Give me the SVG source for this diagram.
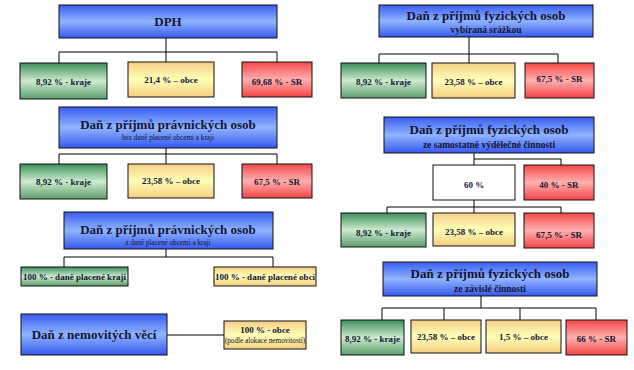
<svg xmlns="http://www.w3.org/2000/svg" width="634" height="370" viewBox="0 0 634 370">
<defs>
<linearGradient id="gBlue" x1="0" y1="0" x2="0" y2="1">
<stop offset="0" stop-color="#3a5cf0"/><stop offset="0.5" stop-color="#8fb4ff"/><stop offset="1" stop-color="#3658ee"/>
</linearGradient>
<linearGradient id="gGreen" x1="0" y1="0" x2="0" y2="1">
<stop offset="0" stop-color="#3f8f5a"/><stop offset="0.5" stop-color="#cdebcf"/><stop offset="1" stop-color="#5c9e6c"/>
</linearGradient>
<linearGradient id="gYellow" x1="0" y1="0" x2="0" y2="1">
<stop offset="0" stop-color="#f6cf85"/><stop offset="0.5" stop-color="#ffffb8"/><stop offset="1" stop-color="#f6cd80"/>
</linearGradient>
<linearGradient id="gRed" x1="0" y1="0" x2="0" y2="1">
<stop offset="0" stop-color="#f54848"/><stop offset="0.5" stop-color="#ffb0b0"/><stop offset="1" stop-color="#f44444"/>
</linearGradient>
</defs>
<style>
rect{stroke:#111;stroke-width:1}
.b{fill:url(#gBlue)}.g{fill:url(#gGreen)}.y{fill:url(#gYellow)}.r{fill:url(#gRed)}.w{fill:#fff}
text{font-family:"Liberation Serif","Times New Roman",serif;font-weight:bold;fill:#141432;text-anchor:middle}
.t{font-size:13px}.s{font-size:9.5px}.xs{font-size:7.2px;font-weight:normal}.l{font-size:9px}
.c path{fill:none;stroke:#000;stroke-width:1}
</style>
<g class="c" id="connectors">
<path d="M166 38V52M59 52H277M59 52V63M166 52V62M277 52V62"/>
<path d="M166 148V154M59 154H277M59 154V164M166 154V164M277 154V164"/>
<path d="M166 249V257M64 257H273M64 257V267M273 257V267"/>
<path d="M167 335H224"/>
<path d="M469 37V54M379 54H558M379 54V63M469 54V63M558 54V63"/>
<path d="M474 153V159H561V165M474 159V165"/>
<path d="M474 200V207M387 207H561M387 207V213M474 207V213M561 207V213"/>
<path d="M481 296V308M382 308H596M382 308V320M444 308V320M520 308V320M596 308V320"/>
</g>
<g id="dph"><rect class="b" x="59" y="5" width="218" height="33"/><text class="t" x="168" y="26">DPH</text></g>
<g id="dph-kraje"><rect class="g" x="20" y="63" width="87" height="36"/><text class="l" x="63.5" y="85">8,92 % - kraje</text></g>
<g id="dph-obce"><rect class="y" x="128" y="62" width="86" height="35"/><text class="l" x="171" y="83">21,4 % – obce</text></g>
<g id="dph-sr"><rect class="r" x="242" y="62" width="70" height="35"/><text class="l" x="277" y="85">69,68 % - SR</text></g>

<g id="dppo1"><rect class="b" x="59" y="107" width="218" height="41"/><text class="t" x="168" y="129">Daň z příjmů právnických osob</text><text class="xs" x="168" y="140">bez daně placené obcemi a kraji</text></g>
<g id="dppo1-kraje"><rect class="g" x="20" y="164" width="87" height="35"/><text class="l" x="63.5" y="185">8,92 % - kraje</text></g>
<g id="dppo1-obce"><rect class="y" x="128" y="164" width="86" height="34"/><text class="l" x="171" y="184">23,58 % – obce</text></g>
<g id="dppo1-sr"><rect class="r" x="242" y="164" width="70" height="34"/><text class="l" x="277" y="185">67,5 % - SR</text></g>

<g id="dppo2"><rect class="b" x="64" y="212" width="209" height="37"/><text class="t" x="168" y="234">Daň z příjmů právnických osob</text><text class="xs" x="168" y="245">z daně placené obcemi a kraji</text></g>
<g id="dppo2-kraj"><rect class="g" x="21" y="267" width="107" height="19"/><text class="l" x="74.5" y="280">100 % - daně placené kraji</text></g>
<g id="dppo2-obec"><rect class="y" x="214" y="267" width="102" height="19"/><text class="l" x="265" y="280">100 % - daně placené obcí</text></g>

<g id="dnv"><rect class="b" x="21" y="314" width="146" height="41"/><text class="t" x="94" y="339">Daň z nemovitých věcí</text></g>
<g id="dnv-obce"><rect class="y" x="224" y="321" width="82" height="28"/><text class="l" x="265" y="333">100 % - obce</text><text class="xs" x="265" y="343">(podle alokace nemovitostí)</text></g>

<g id="dpfo1"><rect class="b" x="379" y="5" width="214" height="32"/><text class="t" x="486" y="20">Daň z příjmů fyzických osob</text><text class="s" x="486" y="33">vybíraná srážkou</text></g>
<g id="dpfo1-kraje"><rect class="g" x="341" y="63" width="85" height="35"/><text class="l" x="383.5" y="85">8,92 % - kraje</text></g>
<g id="dpfo1-obce"><rect class="y" x="432" y="63" width="83" height="35"/><text class="l" x="473.5" y="85">23,58 % – obce</text></g>
<g id="dpfo1-sr"><rect class="r" x="525" y="63" width="69" height="35"/><text class="l" x="559.5" y="82">67,5 % - SR</text></g>

<g id="dpfo2"><rect class="b" x="384" y="117" width="210" height="36"/><text class="t" x="489" y="134">Daň z příjmů fyzických osob</text><text class="s" x="489" y="148">ze samostatně výdělečné činnosti</text></g>
<g id="dpfo2-60"><rect class="w" x="433" y="165" width="82" height="35"/><text class="l" x="474" y="188">60 %</text></g>
<g id="dpfo2-40sr"><rect class="r" x="524" y="165" width="70" height="35"/><text class="l" x="559" y="188">40 % - SR</text></g>
<g id="dpfo2-kraje"><rect class="g" x="341" y="213" width="85" height="34"/><text class="l" x="383.5" y="236">8,92 % - kraje</text></g>
<g id="dpfo2-obce"><rect class="y" x="433" y="213" width="82" height="33"/><text class="l" x="474" y="235">23,58 % – obce</text></g>
<g id="dpfo2-sr"><rect class="r" x="524" y="213" width="70" height="35"/><text class="l" x="559" y="238">67,5 % - SR</text></g>

<g id="dpfo3"><rect class="b" x="383" y="262" width="214" height="34"/><text class="t" x="490" y="278">Daň z příjmů fyzických osob</text><text class="s" x="490" y="292">ze závislé činnosti</text></g>
<g id="dpfo3-kraje"><rect class="g" x="341" y="320" width="63" height="35"/><text class="l" x="372.5" y="342">8,92 % - kraje</text></g>
<g id="dpfo3-obce"><rect class="y" x="411" y="320" width="70" height="33"/><text class="l" x="446" y="340">23,58 % – obce</text></g>
<g id="dpfo3-obce2"><rect class="y" x="486" y="320" width="75" height="33"/><text class="l" x="523.5" y="340">1,5 % – obce</text></g>
<g id="dpfo3-sr"><rect class="r" x="566" y="320" width="61" height="35"/><text class="l" x="596.5" y="342">66 % - SR</text></g>
</svg>
